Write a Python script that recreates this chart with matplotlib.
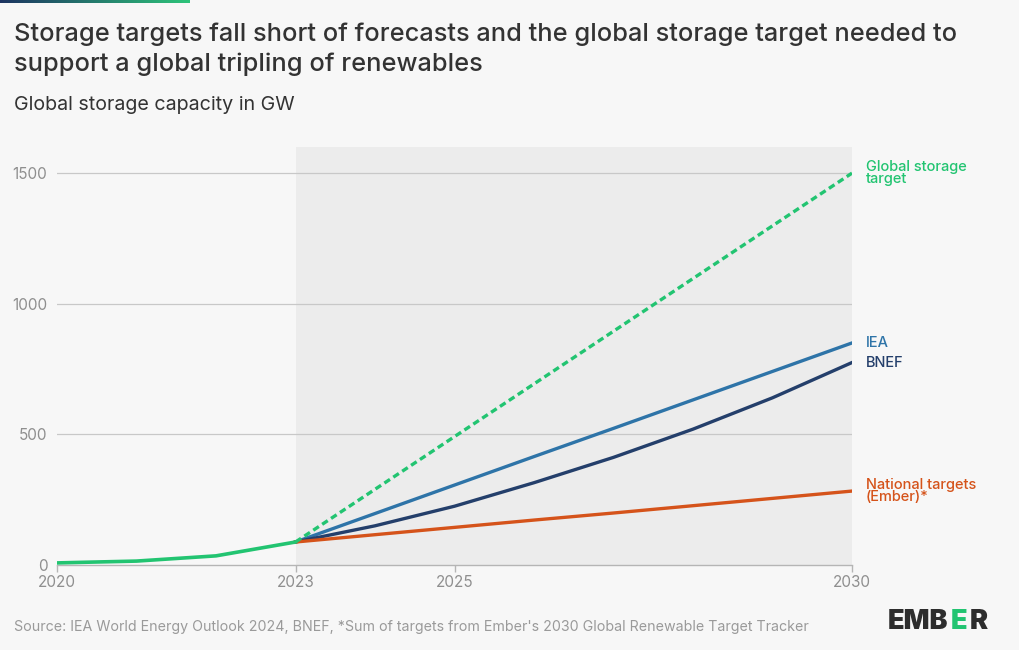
import matplotlib
matplotlib.use("Agg")
import matplotlib.pyplot as plt
import numpy as np
from matplotlib.colors import LinearSegmentedColormap

# ---- data ----
hist_years = [2020, 2021, 2022, 2023]
hist_values = [8, 15, 35, 88]

proj_years = [2023, 2024, 2025, 2026, 2027, 2028, 2029, 2030]
iea_values = [88, 197, 306, 415, 523, 632, 741, 850]
bnef_values = [88, 150, 225, 315, 412, 520, 640, 775]
national_values = [88, 116, 144, 172, 199, 227, 255, 283]
target_years = [2023, 2030]
target_values = [88, 1500]

x_ticks = [2020, 2023, 2025, 2030]
y_ticks = [0, 500, 1000, 1500]

title = "Storage targets fall short of forecasts and the global storage target needed to\nsupport a global tripling of renewables"
subtitle = "Global storage capacity in GW"
source = "Source: IEA World Energy Outlook 2024, BNEF, *Sum of targets from Ember's 2030 Global Renewable Target Tracker"

GREEN = "#22c471"
IEA_C = "#2e74a8"
BNEF_C = "#243f6b"
ORANGE = "#d5531a"
BG = "#f7f7f7"
TXT = "#333333"

plt.rcParams['font.family'] = ['Inter', 'DejaVu Sans']

fig = plt.figure(figsize=(10.2, 6.5), dpi=100, facecolor=BG)
W, H = 1020, 650
r = fig.canvas.get_renderer()

ax = fig.add_axes([57 / W, 1 - 565 / H, (852 - 57) / W, (565 - 147) / H])
ax.set_facecolor(BG)
ax.set_xlim(2020, 2030)
ax.set_ylim(0, 1600)

ax.axvspan(2023, 2030, color="#ececec", zorder=0, lw=0)
for yv in y_ticks[1:]:
    ax.axhline(yv, color="#c8c8c8", lw=0.9, zorder=1)

ax.plot(hist_years, hist_values, color=GREEN, lw=2.6, zorder=5, solid_capstyle='round')
ax.plot(target_years, target_values, color=GREEN, lw=2.4, ls=(0, (2, 1.2)), zorder=4)
ax.plot(proj_years, iea_values, color=IEA_C, lw=2.4, zorder=3)
ax.plot(proj_years, bnef_values, color=BNEF_C, lw=2.4, zorder=3)
ax.plot(proj_years, national_values, color=ORANGE, lw=2.4, zorder=3)

for s in ["top", "right", "left"]:
    ax.spines[s].set_visible(False)
ax.spines["bottom"].set_color("#b5b5b5")
ax.spines["bottom"].set_linewidth(1)
ax.set_xticks(x_ticks)
ax.set_xticklabels([str(v) for v in x_ticks])
ax.set_yticks(y_ticks)
ax.set_yticklabels([str(v) for v in y_ticks])
ax.tick_params(axis='x', colors="#b5b5b5", labelcolor="#8f8f8f", length=5, width=1, labelsize=11, pad=2)
ax.tick_params(axis='y', length=0, labelcolor="#8f8f8f", labelsize=11, pad=7)

# end labels
lbl_x = 2030 + 14 / 79.5
ax.text(lbl_x, 1500, "Global storage\ntarget", color=GREEN, fontsize=10.5, fontweight='medium',
        va='center', ha='left', linespacing=0.85)
ax.text(lbl_x, 850, "IEA", color=IEA_C, fontsize=10.5, fontweight='medium', va='center', ha='left')
ax.text(lbl_x, 775, "BNEF", color=BNEF_C, fontsize=10.5, fontweight='medium', va='center', ha='left')
ax.text(lbl_x, 283, "National targets\n(Ember)*", color=ORANGE, fontsize=10.5, fontweight='medium',
        va='center', ha='left', linespacing=0.85)
for t in ax.texts:
    t.set_clip_on(False)

# top gradient bar
bar_ax = fig.add_axes([0, 1 - 3 / H, 190 / W, 3 / H])
cmap = LinearSegmentedColormap.from_list("g", ["#1d3461", "#2ec47a"])
bar_ax.imshow(np.linspace(0, 1, 256)[None, :], aspect='auto', cmap=cmap)
bar_ax.axis('off')


def fit_text(x, y, s, target_w, base_size, **kw):
    t = fig.text(x / W, 1 - y / H, s, fontsize=base_size, **kw)
    w = t.get_window_extent(renderer=r).width
    t.set_fontsize(base_size * target_w / w)
    return t


fit_text(14, 23, title, 941, 16.5, fontweight='medium', color=TXT, va='top', ha='left', linespacing=1.3)
fit_text(14, 105, subtitle, 281, 13, color=TXT, va='center', ha='left')
fit_text(14, 627, source, 794, 9.5, color="#9a9a9a", va='center', ha='left')

# EMBER logo
logo_parts = [("EMB", "#2d2d2d"), ("E", GREEN), ("R", "#2d2d2d")]
x0 = 888 / W
for txt, col in logo_parts:
    t = fig.text(x0, 1 - 622 / H, txt, fontsize=19.5, fontweight='black', color=col, va='center', ha='left')
    bb = t.get_window_extent(renderer=r)
    x0 += bb.width / W + 2.5 / W

fig.savefig("out.png", dpi=100, facecolor=BG)
